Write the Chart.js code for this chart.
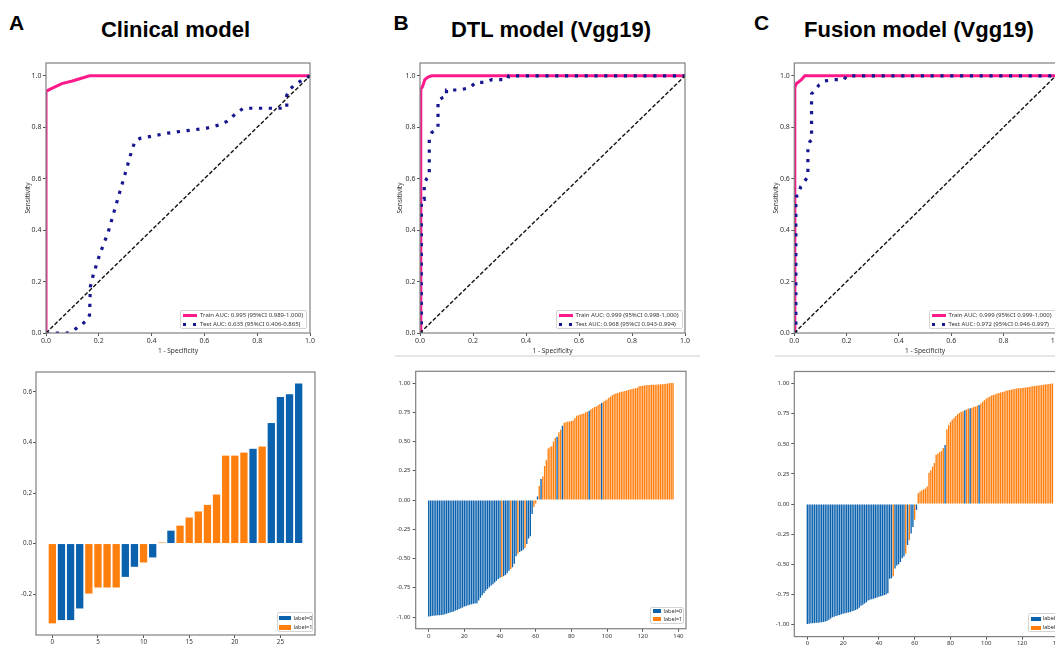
<!DOCTYPE html>
<html><head><meta charset="utf-8">
<script src="https://cdn.jsdelivr.net/npm/chart.js@4.4.1/dist/chart.umd.min.js"></script>
<style>
html,body{margin:0;padding:0;width:1055px;height:645px;overflow:hidden;background:#fff;}
canvas{position:absolute;}
.hd{position:absolute;font-family:"Liberation Sans",Arial,sans-serif;font-weight:bold;color:#000;white-space:nowrap;}
.lg{position:absolute;border:1px solid #d4d4d4;border-radius:2px;background:rgba(255,255,255,0.85);box-sizing:border-box;}
.lgt{position:absolute;font-family:"Noto Sans",sans-serif;color:#333;white-space:nowrap;}
.sep{position:absolute;height:2px;background:#e6e6e6;}
</style></head><body>
<script>
// ---------------- DATA ----------------
const panelLetters = ["A", "B", "C"];
const panelTitles = ["Clinical model", "DTL model (Vgg19)", "Fusion model (Vgg19)"];
const rocXTitle = "1 - Specificity";
const rocYTitle = "Sensitivity";
const diagX = [0, 1];
const diagY = [0, 1];

// Panel A ROC
const trainAX = [0, 0, 0.02, 0.06, 0.1, 0.165, 1];
const trainAY = [0, 0.94, 0.95, 0.97, 0.98, 1.0, 1.0];
const testAX = [0, 0.08, 0.1, 0.116, 0.135, 0.157, 0.165, 0.168, 0.18, 0.205, 0.235, 0.26, 0.3, 0.325, 0.337, 0.356, 0.41, 0.46, 0.51, 0.56, 0.61, 0.66, 0.685, 0.71, 0.73, 0.747, 0.912, 0.912, 0.925, 0.95, 0.975, 1];
const testAY = [0, 0, 0.008, 0.019, 0.032, 0.052, 0.07, 0.18, 0.23, 0.31, 0.39, 0.48, 0.62, 0.71, 0.745, 0.757, 0.767, 0.777, 0.784, 0.79, 0.797, 0.81, 0.823, 0.845, 0.861, 0.874, 0.874, 0.925, 0.95, 0.97, 0.987, 1];
const legendA = ["Train AUC: 0.995 (95%CI 0.989-1.000)", "Test AUC: 0.635 (95%CI 0.406-0.865)"];

// Panel B ROC
const trainBX = [0, 0.003, 0.008, 0.012, 0.018, 0.03, 0.045, 1];
const trainBY = [0, 0.95, 0.955, 0.965, 0.985, 0.995, 1, 1];
const testBX = [0, 0.005, 0.005, 0.016, 0.016, 0.025, 0.035, 0.035, 0.045, 0.06, 0.068, 0.068, 0.085, 0.1, 0.1, 0.15, 0.19, 0.21, 0.25, 0.27, 0.33, 0.335, 1];
const testBY = [0, 0, 0.52, 0.52, 0.58, 0.6, 0.61, 0.76, 0.78, 0.79, 0.8, 0.905, 0.915, 0.92, 0.945, 0.945, 0.955, 0.975, 0.975, 0.985, 0.985, 1, 1];
const legendB = ["Train AUC: 0.999 (95%CI 0.998-1.000)", "Test AUC: 0.968 (95%CI 0.943-0.994)"];

// Panel C ROC
const trainCX = [0, 0.002, 0.008, 0.015, 0.028, 0.04, 1];
const trainCY = [0, 0.955, 0.97, 0.975, 0.986, 1, 1];
const testCX = [0, 0.006, 0.006, 0.015, 0.025, 0.04, 0.052, 0.052, 0.06, 0.066, 0.066, 0.08, 0.095, 0.115, 0.15, 0.19, 0.2, 1];
const testCY = [0, 0, 0.53, 0.535, 0.57, 0.59, 0.61, 0.72, 0.745, 0.75, 0.93, 0.945, 0.965, 0.98, 0.985, 0.985, 1, 1];
const legendC = ["Train AUC: 0.999 (95%CI 0.999-1.000)", "Test AUC: 0.972 (95%CI 0.946-0.997)"];

// Waterfall legends
const classNames = ["label=0", "label=1"];

// Panel A waterfall
const wfAValues = [-0.316,-0.303,-0.303,-0.257,-0.198,-0.174,-0.174,-0.174,-0.132,-0.092,-0.075,-0.055,0.004,0.051,0.071,0.103,0.127,0.153,0.194,0.348,0.348,0.360,0.375,0.384,0.477,0.580,0.591,0.633];
const wfALabels = [1,0,0,0,1,1,1,1,0,0,1,0,1,0,1,1,1,1,1,1,1,1,0,1,0,0,0,0];

// Panel B waterfall
const wfBValues = [
-0.995,-0.993,-0.99,-0.99,-0.988,-0.986,-0.985,-0.983,-0.98,-0.976,
-0.972,-0.966,-0.962,-0.958,-0.952,-0.945,-0.94,-0.932,-0.925,-0.918,
-0.91,-0.905,-0.9,-0.896,-0.89,-0.886,-0.884,-0.882,-0.86,-0.835,
-0.815,-0.795,-0.775,-0.76,-0.745,-0.73,-0.72,-0.705,-0.69,-0.675,
-0.665,-0.658,-0.652,-0.64,-0.625,-0.605,-0.59,-0.575,-0.545,-0.48,
-0.46,-0.445,-0.435,-0.425,-0.41,-0.375,-0.33,-0.31,-0.12,-0.06,
-0.03,0.03,0.12,0.18,0.2,0.29,0.34,0.44,0.45,0.46,
0.5,0.53,0.54,0.58,0.6,0.635,0.66,0.665,0.67,0.672,
0.675,0.68,0.7,0.72,0.725,0.73,0.735,0.74,0.75,0.755,
0.762,0.775,0.785,0.795,0.8,0.81,0.82,0.83,0.84,0.85,
0.86,0.875,0.885,0.895,0.905,0.91,0.915,0.92,0.925,0.928,
0.932,0.936,0.94,0.944,0.948,0.952,0.955,0.96,0.972,0.975,
0.977,0.979,0.981,0.982,0.983,0.984,0.985,0.986,0.987,0.988,
0.989,0.99,0.992,0.994,0.996,0.998,0.999,1.0];
const wfBLabels = [
0,0,0,0,0,0,0,0,0,0, 0,0,0,0,0,0,0,0,0,0, 0,0,0,0,0,0,0,0,0,0, 0,0,0,0,0,0,0,0,0,0,
0,1,0,0,0,0,1,0,0,0, 1,0,0,0,1,0,0,0,0,1, 1,0,1,0,1,1,1,1,1,1, 1,1,0,1,1,0,1,1,1,1,
1,1,1,1,1,1,1,1,1,1, 0,1,1,1,1,1,1,0,1,1,
1,1,1,1,1,1,1,1,1,1, 1,1,1,1,1,1,1,1,1,1, 1,1,1,1,1,1,1,1,1,1, 1,1,1,1,1,1,1,1];

// Panel C waterfall
const wfCValues = [
-0.995,-0.993,-0.99,-0.99,-0.988,-0.986,-0.985,-0.983,-0.98,-0.978,
-0.975,-0.97,-0.96,-0.95,-0.94,-0.935,-0.93,-0.925,-0.92,-0.915,
-0.91,-0.906,-0.903,-0.9,-0.895,-0.89,-0.885,-0.88,-0.87,-0.86,
-0.845,-0.835,-0.825,-0.815,-0.8,-0.795,-0.79,-0.785,-0.78,-0.775,
-0.77,-0.765,-0.76,-0.755,-0.75,-0.74,-0.62,-0.615,-0.6,-0.535,
-0.51,-0.5,-0.48,-0.45,-0.435,-0.41,-0.34,-0.3,-0.245,-0.19,
-0.13,-0.05,0.09,0.105,0.115,0.12,0.13,0.145,0.26,0.28,
0.31,0.34,0.41,0.42,0.43,0.44,0.465,0.49,0.62,0.655,
0.68,0.7,0.715,0.73,0.745,0.755,0.765,0.77,0.778,0.785,
0.79,0.795,0.8,0.805,0.81,0.815,0.822,0.835,0.85,0.862,
0.875,0.885,0.893,0.9,0.906,0.912,0.917,0.922,0.926,0.93,
0.935,0.94,0.943,0.946,0.949,0.952,0.955,0.958,0.96,0.962,
0.964,0.966,0.968,0.97,0.972,0.975,0.978,0.98,0.982,0.984,
0.986,0.988,0.99,0.992,0.994,0.996,0.998,1.0];
const wfCLabels = [
0,0,0,0,0,0,0,0,0,0, 0,0,0,0,0,0,0,0,0,0, 0,0,0,0,0,0,0,0,0,0, 0,0,0,0,0,0,0,0,0,0,
0,0,0,0,0,0,0,0,1,0, 0,0,0,0,0,1,0,1,0,0, 1,0,1,1,1,1,1,1,1,1, 1,1,1,1,1,1,1,0,1,1,
1,1,1,1,1,1,1,1,0,1, 1,0,1,1,1,1,0,1,1,1,
1,1,1,1,1,1,1,1,1,1, 1,1,1,1,1,1,1,1,1,1, 1,1,1,1,1,1,1,1,1,1, 1,1,1,1,1,1,1,1];

// ---------------- STYLE ----------------
const PINK = '#ff1a8c', NAVY = '#161690', BLUE = '#0a62ae', ORANGE = '#ff7f0e';
const FONT = '"Noto Sans", "DejaVu Sans", sans-serif';

const framePlugin = {
  id: 'frame',
  afterDatasetsDraw(chart) {
    const {ctx, chartArea: a} = chart;
    ctx.save();
    ctx.strokeStyle = '#808080';
    ctx.lineWidth = 1.2;
    ctx.strokeRect(a.left, a.top, a.right - a.left, a.bottom - a.top);
    ctx.restore();
  }
};

function mkCanvas(r) {
  const c = document.createElement('canvas');
  c.width = r.w; c.height = r.h;
  c.style.left = r.x + 'px'; c.style.top = r.y + 'px';
  c.style.width = r.w + 'px'; c.style.height = r.h + 'px';
  document.body.appendChild(c);
  return c;
}

function scale(pos, min, max, step, dec, size, pad, fs, title) {
  return {
    type: 'linear', position: pos, min: min, max: max, offset: false,
    afterFit: s => { if (pos === 'left') s.width = size; else s.height = size; },
    grid: {display: true, drawOnChartArea: false, drawTicks: true, tickLength: 3, tickWidth: 1, color: '#555', offset: false},
    border: {display: false},
    ticks: {stepSize: step, includeBounds: false, autoSkip: false, maxRotation: 0, minRotation: 0, padding: pad,
      color: '#333', font: {family: FONT, size: fs}, callback: v => Number(v).toFixed(dec)},
    title: title ? {display: true, text: title, color: '#333', padding: 0, font: {family: FONT, size: 6.6}} : {display: false}
  };
}

function pts(xs, ys) { return xs.map((x, i) => ({x: x, y: ys[i]})); }

function rocChart(cr, box, trX, trY, teX, teY) {
  new Chart(mkCanvas(cr), {
    type: 'line',
    data: {datasets: [
      {data: pts(diagX, diagY), borderColor: '#111', borderWidth: 1.4, borderDash: [4, 2], pointRadius: 0, tension: 0, order: 0},
      {data: pts(teX, teY), borderColor: NAVY, borderWidth: 3.2, borderDash: [3.2, 6.6], borderCapStyle: 'butt', pointRadius: 0, tension: 0, order: 1},
      {data: pts(trX, trY), borderColor: PINK, borderWidth: 3, pointRadius: 0, tension: 0, order: 2}
    ]},
    options: {
      responsive: false, animation: false, devicePixelRatio: 1,
      layout: {padding: {left: 0, top: box.t - cr.y, right: cr.x + cr.w - box.r, bottom: 0}},
      plugins: {legend: {display: false}, tooltip: {enabled: false}},
      scales: {
        x: scale('bottom', 0, 1, 0.2, 1, cr.y + cr.h - box.b, 1.2, 7, rocXTitle),
        y: scale('left', 0, 1.05, 0.2, 1, box.l - cr.x, 1.5, 7, rocYTitle)
      }
    },
    plugins: [framePlugin]
  });
}

function wfChart(cr, box, values, labels, xr, yr, fs, xpad, ypad, catPct) {
  const datasets = [0, 1].map(c => ({
    label: classNames[c],
    data: values.map((v, i) => ({x: i, y: v})).filter((p, i) => labels[i] === c),
    backgroundColor: c ? ORANGE : BLUE,
    borderWidth: 0, grouped: false, categoryPercentage: catPct, barPercentage: 1
  }));
  new Chart(mkCanvas(cr), {
    type: 'bar',
    data: {datasets: datasets},
    options: {
      responsive: false, animation: false, devicePixelRatio: 1,
      layout: {padding: {left: 0, top: box.t - cr.y, right: cr.x + cr.w - box.r, bottom: 0}},
      plugins: {legend: {display: false}, tooltip: {enabled: false}},
      scales: {
        x: scale('bottom', xr[0], xr[1], xr[2], 0, cr.y + cr.h - box.b, xpad, fs, null),
        y: scale('left', yr[0], yr[1], yr[2], yr[3], box.l - cr.x, ypad, fs, null)
      }
    },
    plugins: [framePlugin]
  });
}

function addLegend(o) {
  const box = document.createElement('div');
  box.className = 'lg';
  Object.assign(box.style, {left: o.x + 'px', top: o.y + 'px', width: o.w + 'px', height: o.h + 'px'});
  o.items.forEach((it, k) => {
    const cy = o.rowY[k];
    const s = document.createElement('div');
    s.style.position = 'absolute';
    s.style.left = o.symX + 'px';
    s.style.width = o.symW + 'px';
    s.style.top = (cy - o.symH / 2) + 'px';
    s.style.height = o.symH + 'px';
    if (it.kind === 'dots') s.style.background = 'repeating-linear-gradient(90deg,' + it.color + ' 0 3px, transparent 3px 10px)';
    else s.style.background = it.color;
    box.appendChild(s);
    const t = document.createElement('div');
    t.className = 'lgt';
    t.textContent = it.text;
    t.style.left = o.textX + 'px';
    t.style.fontSize = o.fs + 'px';
    t.style.lineHeight = (o.fs * 1.2) + 'px';
    t.style.top = (cy - o.fs * 0.6) + 'px';
    box.appendChild(t);
  });
  document.body.appendChild(box);
}

function addText(cls, txt, x, y, fs, center) {
  const d = document.createElement('div');
  d.className = cls;
  d.textContent = txt;
  d.style.fontSize = fs + 'px';
  d.style.lineHeight = fs + 'px';
  d.style.left = x + 'px';
  d.style.top = y + 'px';
  if (center) d.style.transform = 'translateX(-50%)';
  document.body.appendChild(d);
}

// ---------------- HEADINGS ----------------
addText('hd', panelLetters[0], 9, 12.3, 21, false);
addText('hd', panelLetters[1], 393.5, 12.3, 21, false);
addText('hd', panelLetters[2], 754, 11.6, 21, false);
addText('hd', panelTitles[0], 175.5, 19.2, 22, true);
addText('hd', panelTitles[1], 551, 18.8, 22, true);
addText('hd', panelTitles[2], 919, 18.8, 22, true);

// separators under B and C ROC
[[395, 305], [775, 280]].forEach(s => {
  const d = document.createElement('div'); d.className = 'sep';
  d.style.left = s[0] + 'px'; d.style.width = s[1] + 'px'; d.style.top = '355px';
  document.body.appendChild(d);
});

// ---------------- ROC CHARTS ----------------
rocChart({x: 24, y: 50, w: 310, h: 305}, {l: 46, t: 63, r: 310, b: 333}, trainAX, trainAY, testAX, testAY);
rocChart({x: 396, y: 50, w: 305, h: 305}, {l: 420, t: 63, r: 685, b: 333}, trainBX, trainBY, testBX, testBY);
rocChart({x: 772, y: 50, w: 305, h: 305}, {l: 794.3, t: 63, r: 1055.8, b: 333}, trainCX, trainCY, testCX, testCY);

function rocLegend(x, texts) {
  addLegend({x: x, y: 310, w: 127, h: 19, symX: 2.2, symW: 14, symH: 3, textX: 19, fs: 6, rowY: [4.2, 13.2],
    items: [{kind: 'line', color: PINK, text: texts[0]}, {kind: 'dots', color: NAVY, text: texts[1]}]});
}
rocLegend(180, legendA);
rocLegend(555.5, legendB);
rocLegend(928.5, legendC);

// ---------------- WATERFALL CHARTS ----------------
wfChart({x: 0, y: 360, w: 335, h: 290}, {l: 36, t: 372, r: 315, b: 635}, wfAValues, wfALabels,
  [-1.79, 28.79, 5], [-0.362, 0.679, 0.2, 1], 6.3, 0.8, 1, 0.8);
wfChart({x: 380, y: 360, w: 320, h: 285}, {l: 415.7, t: 371.3, r: 686, b: 628.7}, wfBValues, wfBLabels,
  [-7.29, 144.29, 20], [-1.1, 1.1, 0.25, 2], 6, 0.6, 2.2, 0.76);
wfChart({x: 760, y: 360, w: 320, h: 290}, {l: 794.3, t: 371.5, r: 1065.5, b: 636.6}, wfCValues, wfCLabels,
  [-7.29, 144.29, 20], [-1.1, 1.1, 0.25, 2], 6, 0.3, 1.8, 0.76);

function wfLegend(x, y, w, h, rows, symW, symH, textX, fs) {
  addLegend({x: x, y: y, w: w, h: h, symX: 1.8, symW: symW, symH: symH, textX: textX, fs: fs, rowY: rows,
    items: [{kind: 'patch', color: BLUE, text: classNames[0]}, {kind: 'patch', color: ORANGE, text: classNames[1]}]});
}
wfLegend(276.7, 611.7, 36, 20, [5.5, 14.8], 11.3, 4.3, 15.8, 5.6);
wfLegend(650, 606.7, 34, 17, [3.4, 11.6], 8.5, 3.6, 12.5, 5.5);
wfLegend(1028.3, 613.3, 40, 18.4, [4.4, 13.4], 10, 4, 13.4, 5.6);
</script>
</body></html>
